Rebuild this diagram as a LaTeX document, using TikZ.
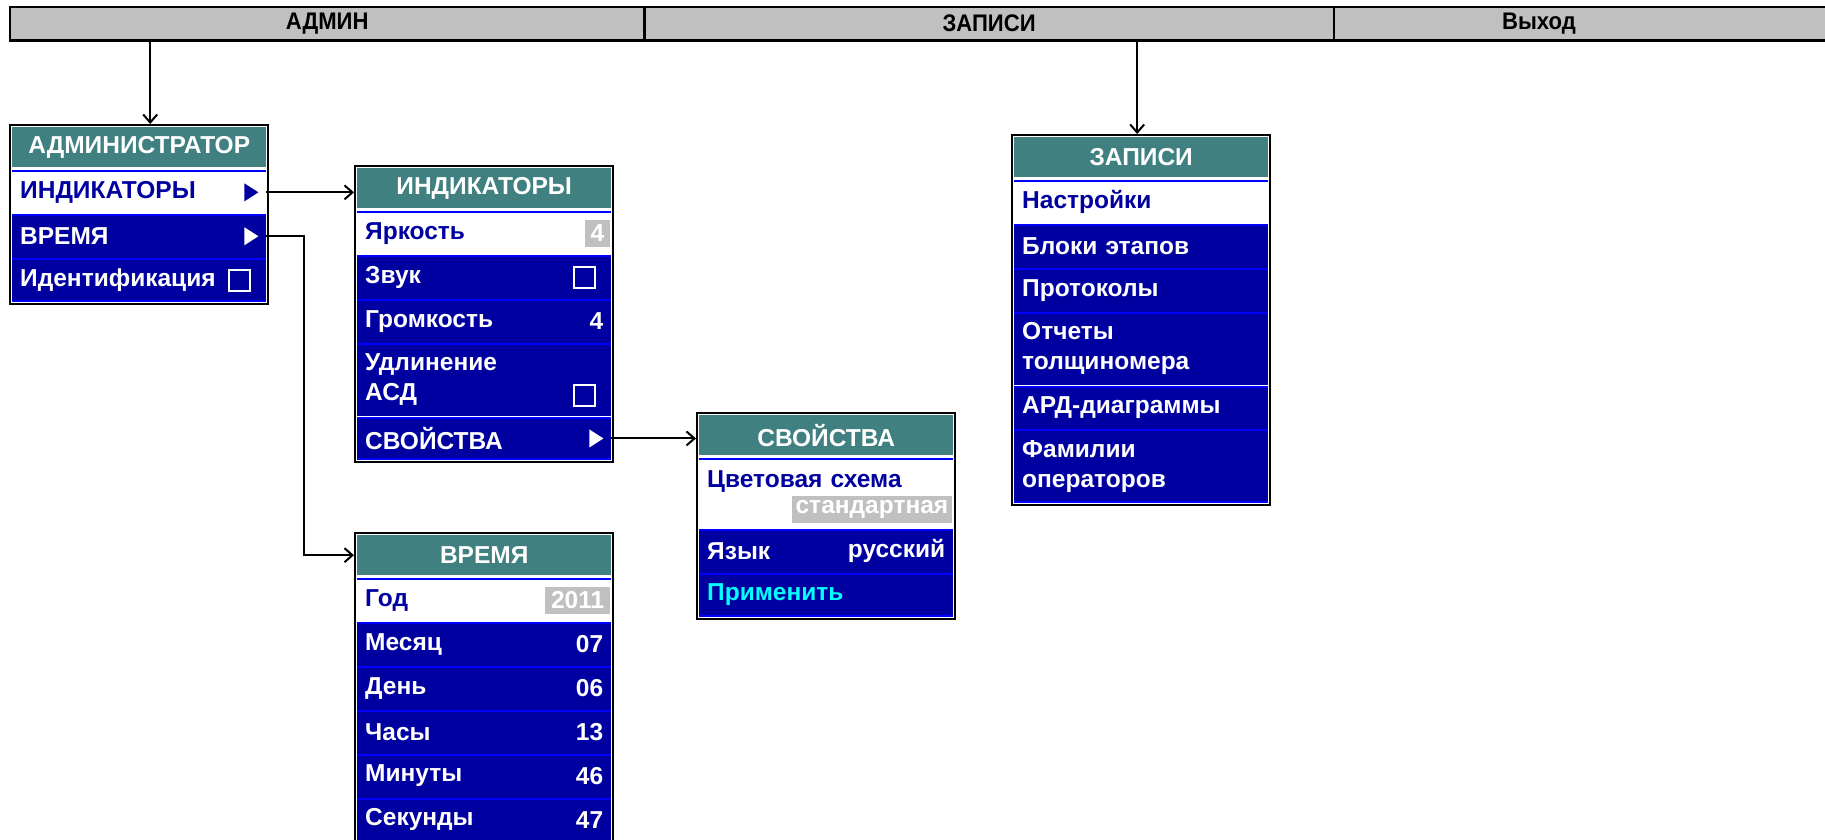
\documentclass[tikz,border=0pt]{standalone}
\usepackage{fontspec}
\setmainfont{Liberation Sans}
\newfontfamily\barfont{Liberation Sans}[FakeStretch=0.92]
\usetikzlibrary{arrows.meta, positioning, fit, backgrounds}
\definecolor{menuteal}{RGB}{64, 128, 128}
\definecolor{menunavy}{RGB}{0, 0, 160}
\definecolor{menublue}{RGB}{0, 0, 255}
\definecolor{menugray}{RGB}{192, 192, 192}
\definecolor{menucyan}{RGB}{0, 255, 255}

\begin{document}
\begin{tikzpicture}[x=1pt, y=-1pt,
    arrow/.style={-{Straight Barb[length=8pt, width=14pt]}, line width=2pt},
    barcell/.style={rectangle, minimum height=33pt, inner sep=0pt,
        font=\barfont\bfseries\fontsize{24}{28}\selectfont},
    barframe/.style={draw=black, fill=menugray, line width=2.5pt},
    barline/.style={draw=black, line width=2.5pt},
    menuhead/.style={rectangle, fill=menuteal, minimum width=254pt, minimum height=40pt,
        inner sep=0pt, text=white, font=\bfseries\fontsize{24.5}{30}\selectfont},
    menuitem/.style={rectangle, fill=menunavy, text=white, minimum width=254pt,
        minimum height=\rowh pt, text width=238pt, inner xsep=8pt, inner ysep=0pt,
        align=left, font=\bfseries\fontsize{24.5}{30}\selectfont},
    menuitemsel/.style={menuitem, fill=white, text=menunavy},
    menuitemtwo/.style={menuitem, minimum height=73pt},
    valtext/.style={rectangle, inner xsep=8pt, inner ysep=0pt, text=white,
        font=\bfseries\fontsize{24.5}{30}\selectfont},
    valbox/.style={rectangle, fill=menugray, text=white, inner xsep=6pt, inner ysep=0pt,
        minimum height=27pt, font=\bfseries\fontsize{24.5}{30}\selectfont},
    checkbox/.style={rectangle, draw=white, line width=2pt, minimum size=21pt, inner sep=0pt},
    rowline/.style={draw=menublue, line width=2pt},
    menuframe/.style={rectangle, draw=black, fill=white, line width=2pt, inner sep=2pt}
]

% === Layout constants ===
\def\rowh{43.5}
\useasboundingbox (0,0) rectangle (1825,840);

% === Top bar ===
\node[barcell, minimum width=634pt, anchor=north west] (admin) at (10,7) {АДМИН};
\node[barcell, minimum width=689pt, right=0pt of admin] (zapisi) {ЗАПИСИ};
\node[barcell, minimum width=410pt, right=0pt of zapisi] (exit) {Выход};
\begin{scope}[on background layer]
    \draw[barframe] (admin.north west) rectangle ([xshift=120pt]exit.south east);
\end{scope}
\draw[barline] (admin.north east) -- (admin.south east);
\draw[barline] (zapisi.north east) -- (zapisi.south east);

% === АДМИНИСТРАТОР ===
\node[menuhead, anchor=north west] (admHead) at (12,127) {АДМИНИСТРАТОР};
\node[menuitemsel, below=3pt of admHead] (adm1) {ИНДИКАТОРЫ};
\node[menuitem, below=0pt of adm1] (adm2) {ВРЕМЯ};
\node[menuitem, below=0pt of adm2] (adm3) {Идентификация};
\begin{scope}[on background layer]
    \node[menuframe, fit=(admHead)(adm3)] (admFrame) {};
\end{scope}
\fill[menunavy] ([xshift=-8pt]adm1.east) -- ++(-14,-9) -- ++(0,18) -- cycle;
\fill[white] ([xshift=-8pt]adm2.east) -- ++(-14,-9) -- ++(0,18) -- cycle;
\node[checkbox, anchor=east] (admIdBox) at ([xshift=-15pt]adm3.east) {};

% === ИНДИКАТОРЫ ===
\node[menuhead, anchor=north west] (indHead) at (357,168) {ИНДИКАТОРЫ};
\node[menuitemsel, below=3pt of indHead] (ind1) {Яркость};
\node[menuitem, below=0pt of ind1] (ind2) {Звук};
\node[menuitem, below=0pt of ind2] (ind3) {Громкость};
\node[menuitemtwo, below=0pt of ind3] (ind4) {Удлинение\\АСД};
\node[menuitem, below=0pt of ind4] (ind5) {СВОЙСТВА};
\begin{scope}[on background layer]
    \node[menuframe, fit=(indHead)(ind5)] (indFrame) {};
\end{scope}
\node[valbox, anchor=east] (indBright) at ([xshift=-1pt]ind1.east) {4};
\node[checkbox, anchor=east] (indSound) at ([xshift=-15pt]ind2.east) {};
\node[valtext, anchor=east] (indVol) at (ind3.east) {4};
\node[checkbox, anchor=south east] (indAsd) at ([shift={(-15pt,10pt)}]ind4.south east) {};
\fill[white] ([xshift=-8pt]ind5.east) -- ++(-14,-9) -- ++(0,18) -- cycle;

% === СВОЙСТВА ===
\node[menuhead, anchor=north west] (svHead) at (699,415) {СВОЙСТВА};
\node[menuitemsel, minimum height=70pt, below=3pt of svHead] (sv1) {Цветовая схема\\\mbox{}};
\node[menuitem, below=0pt of sv1] (sv2) {Язык};
\node[menuitem, text=menucyan, below=0pt of sv2] (sv3) {Применить};
\begin{scope}[on background layer]
    \node[menuframe, fit=(svHead)(sv3)] (svFrame) {};
\end{scope}
\node[valbox, anchor=south east, inner xsep=4pt] (svScheme) at ([shift={(-1pt,6pt)}]sv1.south east) {стандартная};
\node[valtext, anchor=east] (svLang) at (sv2.east) {русский};

% === ВРЕМЯ ===
\node[menuhead, anchor=north west] (vrHead) at (357,535) {ВРЕМЯ};
\node[menuitemsel, below=3pt of vrHead] (vr1) {Год};
\node[valbox, anchor=east] (vrYear) at ([xshift=-1pt]vr1.east) {2011};
\foreach \lbl/\val [count=\i] in {Месяц/07, День/06, Часы/13, Минуты/46, Секунды/47} {
    \pgfmathtruncatemacro{\cur}{\i+1}
    \node[menuitem, below=0pt of vr\i] (vr\cur) {\lbl};
    \node[valtext, anchor=east] (vrVal\cur) at (vr\cur.east) {\val};
}
\begin{scope}[on background layer]
    \node[menuframe, fit=(vrHead)(vr6)] (vrFrame) {};
\end{scope}

% === ЗАПИСИ ===
\node[menuhead, anchor=north west] (zapHead) at (1014,137) {ЗАПИСИ};
\node[menuitemsel, below=3pt of zapHead] (zap1) {Настройки};
\node[menuitem, below=0pt of zap1] (zap2) {Блоки этапов};
\node[menuitem, below=0pt of zap2] (zap3) {Протоколы};
\node[menuitemtwo, below=0pt of zap3] (zap4) {Отчеты\\толщиномера};
\node[menuitem, below=0pt of zap4] (zap5) {АРД-диаграммы};
\node[menuitemtwo, below=0pt of zap5] (zap6) {Фамилии\\операторов};
\begin{scope}[on background layer]
    \node[menuframe, fit=(zapHead)(zap6)] (zapFrame) {};
\end{scope}

% === Blue row dividers ===
\foreach \r in {adm1,adm2,adm3,ind1,ind2,ind3,ind4,ind5,sv1,sv2,sv3,vr1,vr2,vr3,vr4,vr5,vr6,zap1,zap2,zap3,zap4,zap5,zap6} {
    \draw[rowline] ([yshift=-1pt]\r.north west) -- ([yshift=-1pt]\r.north east);
}
\foreach \r in {adm3,ind5,sv3,vr6,zap6} {
    \draw[rowline] ([yshift=1pt]\r.south west) -- ([yshift=1pt]\r.south east);
}

% === Connectors ===
\draw[arrow] ([xshift=11pt]admFrame.north |- admin.south) -- ([xshift=11pt]admFrame.north);
\draw[arrow] ([xshift=-4pt]zapFrame.north |- zapisi.south) -- ([xshift=-4pt]zapFrame.north);
\draw[arrow] (adm1.east) -- (adm1.east -| indFrame.west);
\draw[arrow] (adm2.east) -- ++(38,0) |- (vrFrame.west |- vrHead.west);
\draw[arrow] (ind5.east) -- (ind5.east -| svFrame.west);

\end{tikzpicture}
\end{document}
